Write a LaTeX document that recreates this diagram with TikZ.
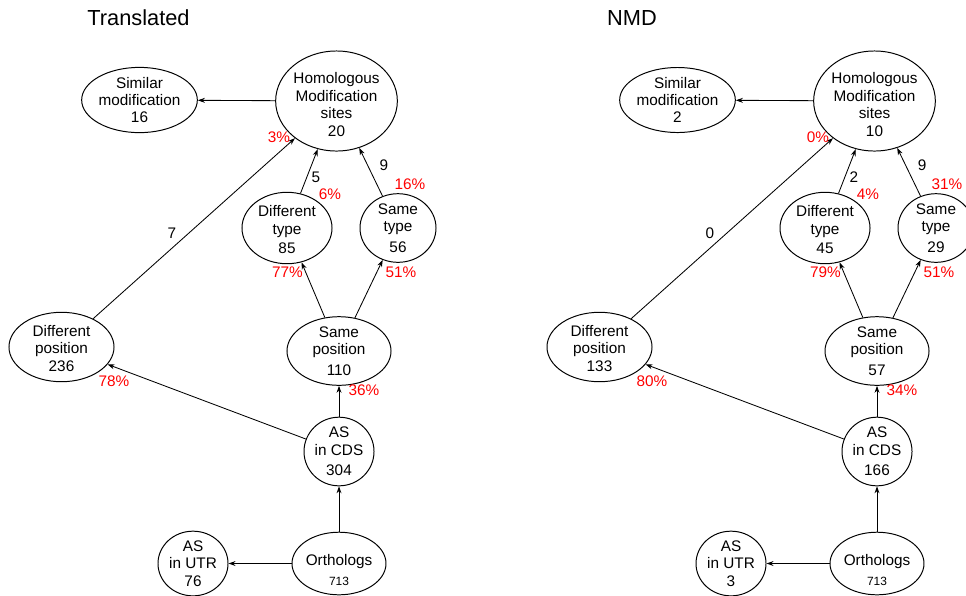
\documentclass[tikz,border=0pt]{standalone}
\usepackage{fontspec}
\setmainfont{Liberation Sans}
\usetikzlibrary{arrows.meta,shapes.geometric}

\tikzset{
    oval/.style={ellipse, draw, line width=0.7pt, inner sep=0pt, align=center, font=\fontsize{10.9}{12.4}\selectfont},
    cnt/.style={inner sep=0pt, font=\fontsize{10.9}{12.4}\selectfont},
    pct/.style={inner sep=0pt, text=red, font=\fontsize{10.9}{12.4}\selectfont},
    heading/.style={inner sep=0pt, font=\fontsize{15.5}{18}\selectfont}
}

\begin{document}
\begin{tikzpicture}[x=0.025cm, y=-0.025cm]

    \useasboundingbox (0,0) rectangle (966,595);
    \clip (0,0) rectangle (966,595);

    % Translated
    \node[heading] (Ttitle) at (138.5,18) {Translated};
    \node[oval, minimum width=2.475cm, minimum height=1.55cm] (TSim) at (139.5,100) {Similar\\modification\\16};
    \node[oval, minimum width=3.025cm, minimum height=2.1cm] (THom) at (336.5,101) {\rule{0pt}{13pt}Homologous\\Modification\\sites\\20};
    \node[oval, minimum width=2.25cm, minimum height=1.675cm] (TDtype) at (287,228) {\rule{0pt}{10pt}Different\\type\\[1pt]85};
    \node[oval, minimum width=1.9cm, minimum height=1.675cm] (TStype) at (398,228) {Same\\type\\[2pt]56};
    \node[oval, minimum width=2.625cm, minimum height=1.5cm] (TDpos) at (61.5,347) {\rule{0pt}{10pt}Different\\position\\236};
    \node[oval, minimum width=2.6cm, minimum height=1.5cm] (TSpos) at (339,351) {Same\\position\\[2pt]110};
    \node[oval, minimum width=1.75cm, minimum height=1.525cm] (TCDS) at (339,451.5) {AS\\in CDS\\[2pt]304};
    \node[oval, minimum width=1.75cm, minimum height=1.475cm] (TUTR) at (193,563.5) {AS\\in UTR\\76};
    \node[oval, minimum width=2cm, minimum height=1.475cm] (TOrth) at (339,563.5) {\rule{0pt}{17pt}Orthologs\\[2pt]{\fontsize{8.5}{10}\selectfont 713}};

    \path[->, >={Stealth[length=5pt,width=3.5pt]}, line width=0.6pt]
    (THom) edge (TSim)
    (TDpos) edge (THom)
    (TDtype) edge (THom)
    (TStype) edge (THom)
    (TSpos) edge (TDtype)
    (TSpos) edge (TStype)
    (TCDS) edge (TDpos)
    (TCDS) edge (TSpos)
    (TOrth) edge (TCDS)
    (TOrth) edge (TUTR);

    % counts and percentages
    \node[cnt] (Tc7) at (172,233) {7};
    \node[cnt] (Tc5) at (316,177) {5};
    \node[cnt] (Tc9) at (384,165) {9};
    \node[pct] (Tp3) at (279,137) {3\%};
    \node[pct] (Tp6) at (330,194) {6\%};
    \node[pct] (Tp16) at (410,184) {16\%};
    \node[pct] (Tp77) at (287.5,272) {77\%};
    \node[pct] (Tp51) at (401,272) {51\%};
    \node[pct] (Tp78) at (114,381) {78\%};
    \node[pct] (Tp36) at (364,390) {36\%};

    % NMD
    \begin{scope}[shift={(538,0)}]
    \node[heading] (Ntitle) at (94,18) {NMD};
    \node[oval, minimum width=2.475cm, minimum height=1.55cm] (NSim) at (139.5,100) {Similar\\modification\\2};
    \node[oval, minimum width=3.025cm, minimum height=2.1cm] (NHom) at (336.5,101) {\rule{0pt}{13pt}Homologous\\Modification\\sites\\10};
    \node[oval, minimum width=2.25cm, minimum height=1.675cm] (NDtype) at (287,228) {\rule{0pt}{10pt}Different\\type\\[1pt]45};
    \node[oval, minimum width=1.9cm, minimum height=1.675cm] (NStype) at (398,228) {Same\\type\\[2pt]29};
    \node[oval, minimum width=2.625cm, minimum height=1.5cm] (NDpos) at (61.5,347) {\rule{0pt}{10pt}Different\\position\\133};
    \node[oval, minimum width=2.6cm, minimum height=1.5cm] (NSpos) at (339,351) {Same\\position\\[2pt]57};
    \node[oval, minimum width=1.75cm, minimum height=1.525cm] (NCDS) at (339,451.5) {AS\\in CDS\\[2pt]166};
    \node[oval, minimum width=1.75cm, minimum height=1.475cm] (NUTR) at (193,563.5) {AS\\in UTR\\3};
    \node[oval, minimum width=2cm, minimum height=1.475cm] (NOrth) at (339,563.5) {\rule{0pt}{17pt}Orthologs\\[2pt]{\fontsize{8.5}{10}\selectfont 713}};

    \path[->, >={Stealth[length=5pt,width=3.5pt]}, line width=0.6pt]
    (NHom) edge (NSim)
    (NDpos) edge (NHom)
    (NDtype) edge (NHom)
    (NStype) edge (NHom)
    (NSpos) edge (NDtype)
    (NSpos) edge (NStype)
    (NCDS) edge (NDpos)
    (NCDS) edge (NSpos)
    (NOrth) edge (NCDS)
    (NOrth) edge (NUTR);

    \node[cnt] (Nc0) at (172,233) {0};
    \node[cnt] (Nc2) at (316,177) {2};
    \node[cnt] (Nc9) at (384,165) {9};
    \node[pct] (Np0) at (280,137) {0\%};
    \node[pct] (Np4) at (330,194) {4\%};
    \node[pct] (Np31) at (409,184) {31\%};
    \node[pct] (Np79) at (287.5,272) {79\%};
    \node[pct] (Np51) at (401,272) {51\%};
    \node[pct] (Np80) at (114,381) {80\%};
    \node[pct] (Np34) at (364,390) {34\%};
    \end{scope}

\end{tikzpicture}
\end{document}
